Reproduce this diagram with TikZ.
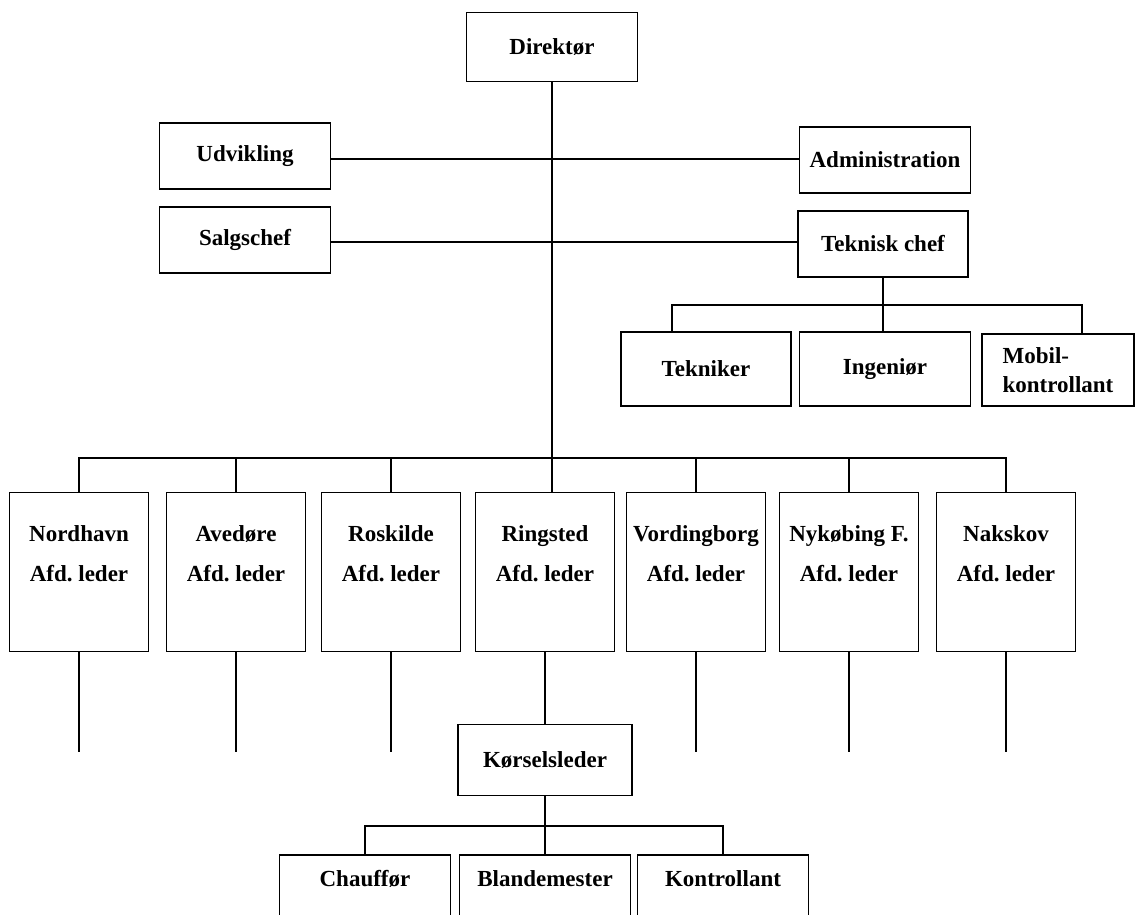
\documentclass[tikz,border=0pt]{standalone}
\usepackage{fontspec}
\setmainfont{Liberation Serif}

\begin{document}
\begin{tikzpicture}[x=1pt, y=-1pt, line width=1.2pt,
  box/.style={draw, line width=1.6pt, inner sep=2pt, align=center, minimum width=171pt, minimum height=66pt, font=\bfseries\fontsize{23}{27}\selectfont},
  afd/.style={box, minimum width=139pt, minimum height=159pt, text depth=37pt},
  bund/.style={box, minimum height=80pt, text depth=33pt}]
\useasboundingbox (0,0) rectangle (1138,915);
\clip (0,0) rectangle (1138,915);
\node[box, minimum height=69pt] (dir) at (552,47) {Direktør};
\node[box] (udv) at (245,156) {Udvikling};
\node[box] (adm) at (885,160) {Administration};
\node[box] (salg) at (245,240) {Salgschef};
\node[box, minimum width=170pt] (tek) at (883,244) {Teknisk chef};
\node[box, minimum width=170pt, minimum height=74pt] (tekn) at (706,369) {Tekniker};
\node[box, minimum height=74pt] (ing) at (885,369) {Ingeniør};
\node[box, minimum width=152pt, minimum height=72pt, align=left] (mob) at (1058,370) {Mobil-\\[2pt]kontrollant};
\node[afd] (nord) at (79,572) {Nordhavn\\[13pt]Afd.\ leder};
\node[afd] (aved) at (236,572) {Avedøre\\[13pt]Afd.\ leder};
\node[afd] (rosk) at (391,572) {Roskilde\\[13pt]Afd.\ leder};
\node[afd] (ring) at (545,572) {Ringsted\\[13pt]Afd.\ leder};
\node[afd] (vord) at (696,572) {Vordingborg\\[13pt]Afd.\ leder};
\node[afd] (nyk) at (849,572) {Nykøbing F.\\[13pt]Afd.\ leder};
\node[afd] (naks) at (1006,572) {Nakskov\\[13pt]Afd.\ leder};
\node[box, minimum width=174pt, minimum height=71pt] (kors) at (545,760) {Kørselsleder};
\node[bund] (chauf) at (365,895) {Chauffør};
\node[bund] (bland) at (545,895) {Blandemester};
\node[bund] (kontr) at (723,895) {Kontrollant};
\coordinate (tbus) at (0,305);
\coordinate (bus) at (0,458);
\coordinate (low) at (0,752);
\coordinate (kbus) at (0,826);
\draw (dir.south) -- (dir.south |- ring.north);
\draw ([yshift=-3pt]udv.east) -- ([yshift=-3pt]udv.east -| adm.west);
\draw ([yshift=-2pt]salg.east) -- ([yshift=-2pt]salg.east -| tek.west);
\draw (tek) -- (tek |- ing.north);
\draw ([xshift=-34pt]tekn.north) -- ([xshift=-34pt]tekn.north |- tbus) -| ([xshift=24pt]mob.north);
\draw (nord.north) -- (nord.north |- bus) -- (naks.north |- bus) -- (naks.north);
\draw (aved.north) -- (aved.north |- bus);
\draw (rosk.north) -- (rosk.north |- bus);
\draw (vord.north) -- (vord.north |- bus);
\draw (nyk.north) -- (nyk.north |- bus);
\draw (nord.south) -- (nord.south |- low);
\draw (aved.south) -- (aved.south |- low);
\draw (rosk.south) -- (rosk.south |- low);
\draw (vord.south) -- (vord.south |- low);
\draw (nyk.south) -- (nyk.south |- low);
\draw (naks.south) -- (naks.south |- low);
\draw (ring) -- (kors);
\draw (kors) -- (bland);
\draw (chauf.north) -- (chauf.north |- kbus) -- (kontr.north |- kbus) -- (kontr.north);
\end{tikzpicture}
\end{document}
